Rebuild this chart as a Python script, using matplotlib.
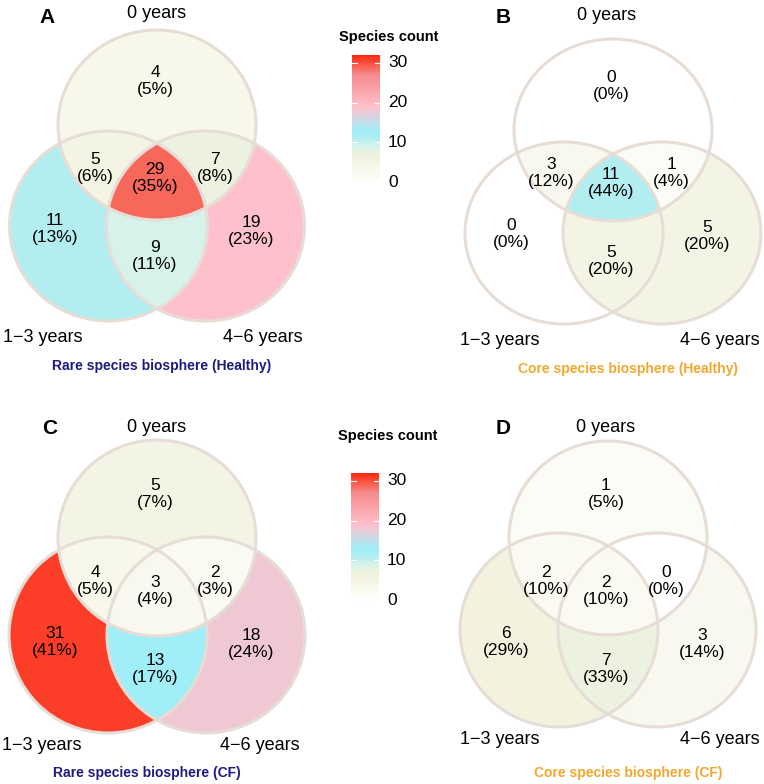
import numpy as np
import matplotlib.pyplot as plt
from matplotlib.patches import Ellipse
from matplotlib.colors import LinearSegmentedColormap, Normalize

plt.rcParams['font.family'] = ['Liberation Sans', 'DejaVu Sans']

# set names (top, bottom-left, bottom-right)
set_names = ["0 years", "1\u22123 years", "4\u22126 years"]

# region order: top only, top+left, all three, top+right, left only, left+right, right only
rare_healthy = [4, 5, 29, 7, 11, 9, 19]
core_healthy = [0, 3, 11, 1, 0, 5, 5]
rare_cf = [5, 4, 3, 2, 31, 13, 18]
core_cf = [1, 2, 2, 0, 6, 7, 3]

panel_letters = ["A", "B", "C", "D"]
panel_titles = ["Rare species biosphere (Healthy)", "Core species biosphere (Healthy)",
                "Rare species biosphere (CF)", "Core species biosphere (CF)"]
cbar_ticks = [0, 10, 20, 30]

RARE_COL = "#1C1C80"
CORE_COL = "#F2A72E"
EDGE = "#E6DDD6"

# colour scale for species count
VMIN, VMAX = -4.5, 32
stops = [(-4.5, "#FFFFFF"), (0, "#FFFFFF"), (1, "#FCFCF6"), (4, "#F7F7EA"),
         (6, "#F2F2DE"), (7.5, "#EAF2E0"), (9, "#D6F3EC"), (11, "#B2EEF1"),
         (13, "#A0EFF8"), (17, "#E0D0DC"), (19, "#FFC0CB"), (27, "#F58C8E"),
         (29, "#F8675A"), (32, "#FF2A10")]
cmap = LinearSegmentedColormap.from_list(
    "count", [((v - VMIN) / (VMAX - VMIN), c) for v, c in stops])
norm = Normalize(VMIN, VMAX)

# count label offsets from the top circle centre
label_off = [(-2, -44), (-62, 43), (-2, 53), (58, 43), (-102, 104), (-2, 131), (94, 106)]


def venn(ax, counts, cx, cy, dx, dy, rx, ry):
    centers = [(cx, cy), (cx - dx, cy + dy), (cx + dx, cy + dy)]
    x0, x1 = cx - dx - rx - 3, cx + dx + rx + 3
    y0, y1 = cy - ry - 3, cy + dy + ry + 3
    xs = np.arange(x0, x1, 0.25)
    ys = np.arange(y0, y1, 0.25)
    X, Y = np.meshgrid(xs, ys)
    T, L, R = [((X - a) / rx) ** 2 + ((Y - b) / ry) ** 2 <= 1 for a, b in centers]
    masks = [T & ~L & ~R, T & L & ~R, T & L & R, T & ~L & R,
             ~T & L & ~R, ~T & L & R, ~T & ~L & R]
    rgba = np.zeros(X.shape + (4,))
    for m, n in zip(masks, counts):
        rgba[m] = cmap(norm(n))
    ax.imshow(rgba, extent=(x0, x1, y1, y0), origin="upper", aspect="auto", zorder=1)
    for a, b in centers:
        ax.add_patch(Ellipse((a, b), 2 * rx, 2 * ry, fill=False, ec=EDGE, lw=2.2, zorder=2))
    total = sum(counts)
    for (ox, oy), n in zip(label_off, counts):
        ax.text(cx + ox, cy + oy, f"{n}\n({round(100 * n / total)}%)", ha="center",
                va="center", fontsize=12.5, linespacing=1.12, zorder=3)


def colorbar(ax, x0, x1, y_top, y_bot, title_y):
    vals = np.linspace(VMAX, VMIN, 400).reshape(-1, 1)
    ax.imshow(vals, cmap=cmap, norm=norm, extent=(x0, x1, y_bot, y_top),
              origin="upper", aspect="auto", zorder=1)
    for t in cbar_ticks:
        y = y_bot - (t - VMIN) / (VMAX - VMIN) * (y_bot - y_top)
        ax.plot([x0, x0 + 5], [y, y], color="white", lw=0.8, zorder=2)
        ax.plot([x1 - 5, x1], [y, y], color="white", lw=0.8, zorder=2)
        ax.text(x1 + 8, y, str(t), ha="left", va="center", fontsize=12.5)
    ax.text((x0 + x1) / 2 + 23, title_y, "Species count", ha="center", va="center",
            fontsize=10.5, fontweight="bold")


fig = plt.figure(figsize=(7.64, 7.84), dpi=100)
ax = fig.add_axes([0, 0, 1, 1])

# panel geometry: top circle centre, half spacing, drop to lower circles, radii
panels = [
    dict(counts=rare_healthy, cx=157, cy=125, dx=48.5, dy=101, rx=99, ry=95,
         top=(157, 13), left=(43, 337), right=(263, 337), sub=(162, 366), let=(47, 17)),
    dict(counts=core_healthy, cx=613, cy=130, dx=49, dy=103, rx=99, ry=91,
         top=(607, 15), left=(500, 340), right=(720, 340), sub=(628, 369), let=(503, 17)),
    dict(counts=rare_cf, cx=157, cy=538, dx=49, dy=97, rx=99, ry=98,
         top=(157, 427), left=(42, 745), right=(260, 745), sub=(147, 773), let=(50, 428)),
    dict(counts=core_cf, cx=608, cy=538, dx=49, dy=92, rx=99, ry=97,
         top=(606, 427), left=(500, 739), right=(720, 739), sub=(628, 773), let=(503, 428)),
]

for i, p in enumerate(panels):
    venn(ax, p["counts"], p["cx"], p["cy"], p["dx"], p["dy"], p["rx"], p["ry"])
    for pos, name in zip([p["top"], p["left"], p["right"]], set_names):
        ax.text(pos[0], pos[1], name, ha="center", va="center", fontsize=13)
    ax.text(p["let"][0], p["let"][1], panel_letters[i], ha="center", va="center",
            fontsize=15, fontweight="bold")
    ax.text(p["sub"][0], p["sub"][1], panel_titles[i], ha="center", va="center",
            fontsize=10, fontweight="bold", color=RARE_COL if i % 2 == 0 else CORE_COL)

colorbar(ax, 352, 380, 55, 200, 37)
colorbar(ax, 351, 379, 473, 618, 436)

ax.set_xlim(0, 764)
ax.set_ylim(784, 0)
ax.axis("off")

fig.savefig("out.png", dpi=100)
